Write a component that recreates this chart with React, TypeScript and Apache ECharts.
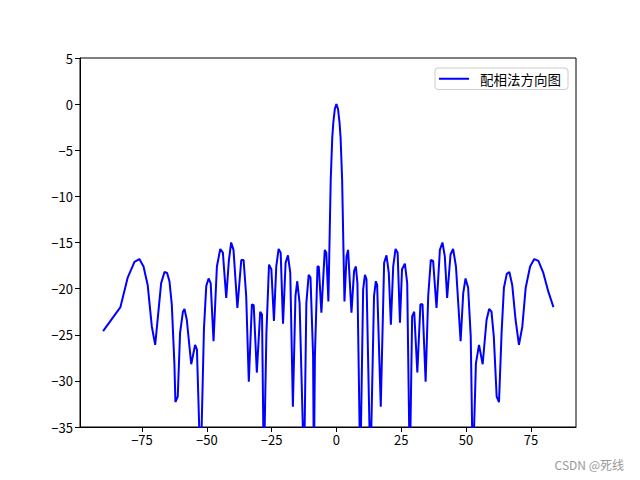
import React, { useEffect, useRef } from "react";
import * as echarts from "echarts";

const seriesName = "配相法方向图";

const thetaDeg: number[] = [
  -90, -83.3, -80.5, -77.9, -76.0, -74.4, -72.8, -71.2, -69.9, -67.6,
  -66.3, -65.3, -64.4, -63.5, -62.5, -62.1, -61.2, -60.3, -59.2, -58.6,
  -57.7, -56.0, -54.5, -53.8, -52.4, -51.1, -50.2, -49.3, -48.5, -47.4,
  -46.1, -44.8, -43.8, -42.5, -41.5, -40.6, -39.7, -38.2, -36.7, -35.8,
  -34.8, -33.8, -32.6, -31.9, -30.7, -29.4, -28.7, -28.0, -27.0, -26.0,
  -25.1, -24.1, -23.2, -22.3, -21.5, -20.6, -19.6, -18.7, -17.8, -16.8,
  -15.8, -15.1, -14.2, -12.5, -11.6, -10.7, -10.0, -9.0, -8.7, -8.3,
  -7.3, -6.8, -5.8, -4.5, -3.9, -3.1, -2.2, -1.6, -1.2, -0.6,
  0,
  0.6, 1.2, 1.6, 2.2, 3.1, 3.9, 4.5, 5.8, 6.8, 7.5,
  8.1, 9.2, 10.3, 11.0, 11.6, 13.1, 14.5, 15.2, 15.7, 17.1,
  18.4, 19.3, 20.2, 21.0, 21.9, 22.8, 23.6, 24.5, 25.3, 26.4,
  27.3, 28.3, 29.2, 30.0, 31.2, 32.4, 33.2, 34.4, 35.4, 36.4,
  37.3, 38.6, 39.9, 40.9, 41.8, 42.7, 44.0, 45.0, 46.1, 47.9,
  48.9, 49.8, 50.8, 51.8, 52.6, 53.8, 55.0, 56.4, 57.9, 58.9,
  59.8, 60.7, 61.8, 62.7, 63.7, 64.6, 65.7, 66.7, 67.8, 69.1,
  70.4, 71.7, 73.0, 74.7, 76.3, 77.9, 79.8, 81.7, 83.7,
];

const gainDb: number[] = [
  -24.6, -22.0, -18.8, -17.1, -16.8, -17.6, -19.6, -24.1, -26.1, -19.4,
  -18.2, -18.3, -19.2, -21.7, -28.1, -32.3, -31.7, -24.8, -22.5, -22.2,
  -23.4, -28.2, -26.1, -26.6, -40, -24.4, -19.7, -18.9, -19.4, -25.7,
  -17.6, -15.7, -16.1, -21.0, -17.0, -15.0, -15.8, -22.1, -16.9, -16.9,
  -20.8, -30.1, -21.7, -21.8, -29.1, -22.5, -22.8, -40, -24.8, -17.4,
  -17.9, -23.5, -17.6, -15.7, -16.1, -23.8, -17.2, -16.4, -18.3, -32.8,
  -20.8, -19.2, -21.6, -40, -21.6, -18.5, -18.8, -27.3, -40, -27.3,
  -17.6, -17.6, -22.6, -15.8, -16.1, -21.4, -8.2, -3.6, -2.0, -0.5,
  0,
  -0.5, -2.0, -3.6, -8.2, -21.4, -16.5, -15.8, -22.6, -18.1, -17.6,
  -19.4, -40, -20.1, -18.5, -19.0, -40, -20.8, -19.2, -19.6, -32.8,
  -17.2, -16.4, -18.3, -23.9, -17.6, -15.7, -16.1, -23.7, -17.9, -17.3,
  -19.4, -40, -23.0, -22.5, -29.1, -21.7, -21.7, -30.1, -20.8, -16.9,
  -17.0, -22.1, -15.8, -15.0, -16.5, -21.0, -16.3, -15.7, -17.6, -25.7,
  -20.5, -18.9, -19.9, -25.2, -40, -28.1, -26.1, -28.2, -23.4, -22.2,
  -22.5, -25.2, -31.7, -32.3, -24.8, -19.9, -18.4, -18.2, -19.6, -23.4,
  -26.1, -24.1, -19.9, -17.6, -16.8, -17.0, -18.3, -20.3, -22.0,
];

const xTicks: number[] = [-75, -50, -25, 0, 25, 50, 75];
const yTicks: number[] = [-35, -30, -25, -20, -15, -10, -5, 0, 5];

const fmt = (v: number) => String(v).replace("-", "\u2212");

export default function App() {
  const ref = useRef<HTMLDivElement>(null);
  useEffect(() => {
    if (!ref.current) return;
    const chart = echarts.init(ref.current, null, { renderer: "svg" });
    const font = "'Noto Sans CJK SC', 'DejaVu Sans', sans-serif";
    chart.setOption({
      animation: false,
      backgroundColor: "#ffffff",
      textStyle: { fontFamily: font },
      grid: {
        left: 80,
        right: 64,
        top: 58,
        bottom: 53,
        show: true,
        borderColor: "#000",
        borderWidth: 1,
        backgroundColor: "transparent",
      },
      legend: {
        show: true,
        data: [{ name: seriesName, icon: "rect" }],
        right: 72,
        top: 68,
        itemWidth: 30,
        itemHeight: 2,
        padding: [4, 7, 4, 4],
        borderColor: "#cccccc",
        borderWidth: 1,
        borderRadius: 3,
        backgroundColor: "#ffffff",
        textStyle: {
          fontFamily: font,
          fontSize: 13.5,
          color: "#000",
          padding: [0, 0, 0, 6],
        },
      },
      xAxis: {
        type: "value",
        min: -98.9,
        max: 92.4,
        axisLine: { show: true, onZero: false, lineStyle: { color: "#000", width: 1 } },
        axisTick: {
          show: true,
          inside: false,
          length: 5,
          customValues: xTicks,
          lineStyle: { color: "#000" },
        },
        axisLabel: {
          customValues: xTicks,
          formatter: (v: number) => fmt(v),
          color: "#000",
          fontSize: 13,
          margin: 6,
          fontFamily: font,
        },
        splitLine: { show: false },
      },
      yAxis: {
        type: "value",
        min: -35,
        max: 5,
        interval: 5,
        axisLine: { show: true, onZero: false, lineStyle: { color: "#000", width: 1 } },
        axisTick: {
          show: true,
          inside: false,
          length: 5,
          customValues: yTicks,
          lineStyle: { color: "#000" },
        },
        axisLabel: {
          customValues: yTicks,
          formatter: (v: number) => fmt(v),
          color: "#000",
          fontSize: 13,
          margin: 7,
          fontFamily: font,
        },
        splitLine: { show: false },
      },
      series: [
        {
          name: seriesName,
          type: "line",
          data: thetaDeg.map((t, i) => [t, gainDb[i]]),
          showSymbol: false,
          symbol: "none",
          clip: true,
          lineStyle: { color: "#0000ff", width: 2 },
          itemStyle: { color: "#0000ff" },
        },
      ],
      graphic: [
        {
          type: "text",
          right: 16,
          top: 458,
          style: {
            text: "CSDN @死线",
            fill: "#999999",
            font: `12px ${font}`,
          },
        },
      ],
    });
    return () => chart.dispose();
  }, []);
  return (
    <div
      ref={ref}
      style={{ position: "fixed", left: 0, top: 0, width: 640, height: 480 }}
    />
  );
}
